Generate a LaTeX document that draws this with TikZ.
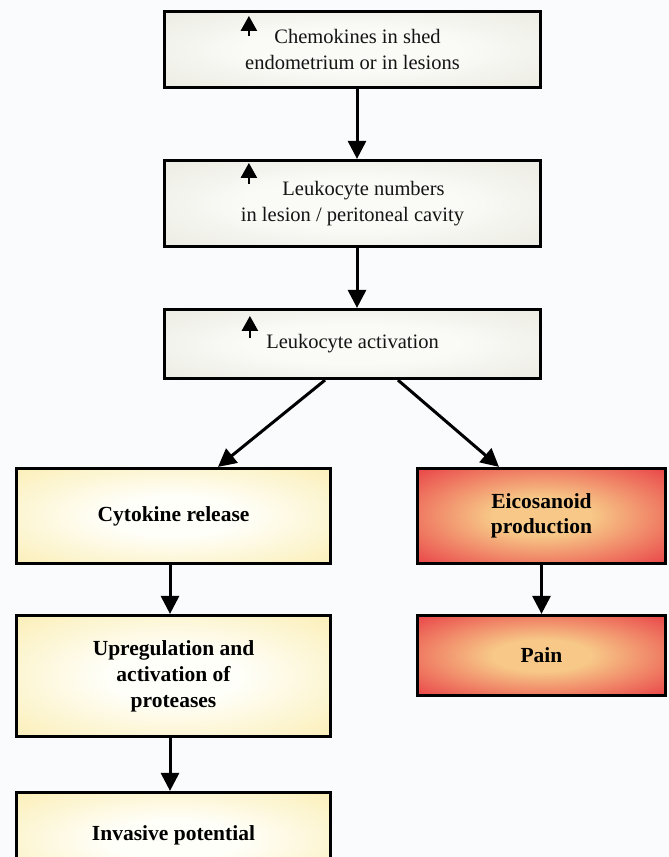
\documentclass[tikz,border=0pt]{standalone}
\usepackage{fontspec}
\setmainfont{Liberation Serif}
\usetikzlibrary{arrows.meta}
\definecolor{bgc}{RGB}{250,251,253}
\definecolor{grayin}{RGB}{250,250,247}
\definecolor{grayout}{RGB}{230,230,219}
\definecolor{yelin}{RGB}{255,255,250}
\definecolor{yelout}{RGB}{250,236,172}
\definecolor{redin}{RGB}{247,200,135}
\definecolor{redout}{RGB}{234,76,76}
\definecolor{txtc}{RGB}{20,20,20}
\pgfdeclareradialshading{grayshade}{\pgfpoint{0bp}{0bp}}{color(0bp)=(grayin); color(14bp)=(grayin); color(44bp)=(grayout); color(75bp)=(grayout)}
\pgfdeclareradialshading{yelshade}{\pgfpoint{0bp}{0bp}}{color(0bp)=(yelin); color(10bp)=(yelin); color(40bp)=(yelout); color(75bp)=(yelout)}
\pgfdeclareradialshading{redshade}{\pgfpoint{0bp}{0bp}}{color(0bp)=(redin); color(10bp)=(redin); color(34bp)=(redout); color(75bp)=(redout)}
\tikzset{
  boxbase/.style={draw=black, line width=3.2pt, rectangle, inner sep=0pt, align=center},
  graybox/.style={boxbase, shading=grayshade, minimum width=376pt, text=txtc,
    font=\fontsize{20.5}{26}\selectfont},
  yelbox/.style={boxbase, shading=yelshade, minimum width=314pt,
    font=\fontsize{21.5}{26}\selectfont\bfseries},
  redbox/.style={boxbase, shading=redshade, minimum width=248pt,
    font=\fontsize{21.5}{25}\selectfont\bfseries},
  conn/.style={line width=3pt, -{Triangle[length=18pt,width=18pt]}},
  upmark/.style={line width=2.4pt, -{Triangle[length=15pt,width=16pt]}}
}
\begin{document}
\begin{tikzpicture}[x=1pt,y=-1pt]
\useasboundingbox (0,0) rectangle (669,857);
\fill[bgc] (0,0) rectangle (669,857);
% top column
\node[graybox, minimum height=76pt] (b1) at (352.5,49.5)
  {\hspace*{10pt}Chemokines in shed\\endometrium or in lesions};
\node[graybox, minimum height=86pt] (b2) at (352.5,203.5)
  {\hspace*{22pt}Leukocyte numbers\\in lesion / peritoneal cavity};
\node[graybox, minimum height=69pt] (b3) at (352.5,344)
  {Leukocyte activation};
% left column
\node[yelbox, minimum height=95pt] (cyt) at (173.5,516) {Cytokine release};
\node[yelbox, minimum height=121pt] (upr) at (173.5,676)
  {Upregulation and\\activation of\\proteases};
\node[yelbox, minimum height=95pt] (inv) at (173.5,840) {\raisebox{14pt}{Invasive potential}};
% right column
\node[redbox, minimum height=95pt] (eic) at (541.5,516) {Eicosanoid\\production};
\node[redbox, minimum height=80pt] (pain) at (541.5,655.5) {Pain};
% up marks
\draw[upmark] ([shift={(86,26)}]b1.north west) -- ([shift={(86,6)}]b1.north west);
\draw[upmark] ([shift={(86,25)}]b2.north west) -- ([shift={(86,4)}]b2.north west);
\draw[upmark] ([shift={(87,30)}]b3.north west) -- ([shift={(87,8)}]b3.north west);
% connectors
\draw[conn] ([xshift=4.5pt]b1.south) -- ([xshift=4.5pt]b2.north);
\draw[conn] ([xshift=4.5pt]b2.south) -- ([xshift=4.5pt]b3.north);
\draw[conn] ([xshift=-27.5pt]b3.south) -- ([xshift=44.5pt]cyt.north);
\draw[conn] ([xshift=45.5pt]b3.south) -- ([xshift=-42.5pt]eic.north);
\draw[conn] ([xshift=-3.5pt]cyt.south) -- ([xshift=-3.5pt]upr.north);
\draw[conn] ([xshift=-3.5pt]upr.south) -- ([xshift=-3.5pt]inv.north);
\draw[conn] (eic.south) -- (pain.north);
\end{tikzpicture}
\end{document}
